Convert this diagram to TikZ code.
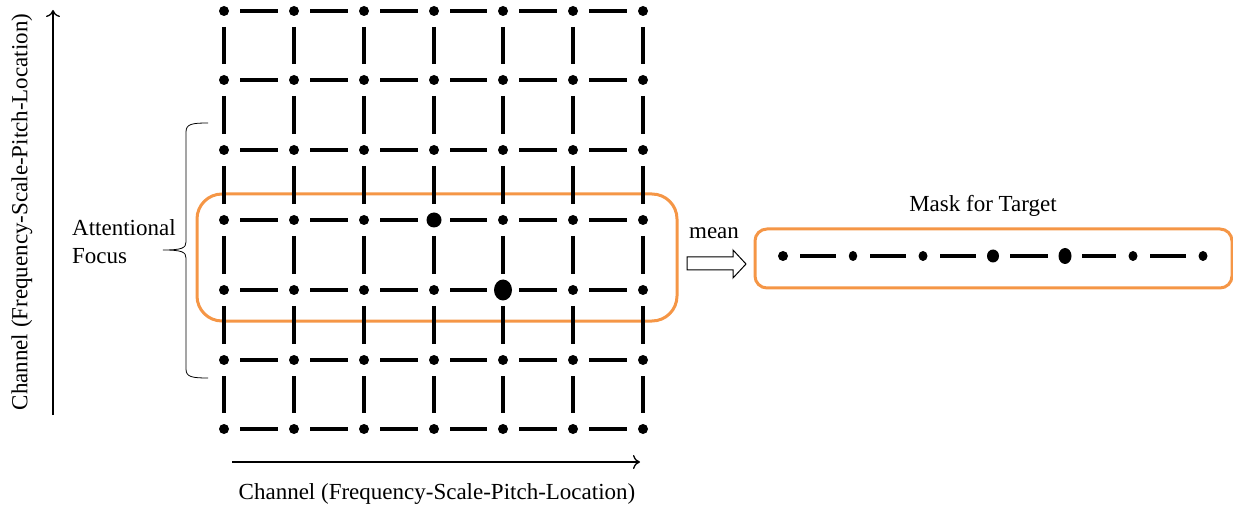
\documentclass[tikz,border=0pt]{standalone}
\usepackage{fontspec}
\setmainfont{Liberation Serif}
\usetikzlibrary{shapes.geometric,arrows.meta}
\definecolor{focusorange}{RGB}{245,150,70}
\tikzset{
  dot/.style={ellipse,fill=black,inner sep=0pt,minimum width=10pt,minimum height=10pt},
  seg/.style={line width=4pt,shorten >=16pt,shorten <=16pt},
  mseg/.style={line width=4pt,shorten >=17pt,shorten <=17pt},
  lbl/.style={font=\fontsize{23}{28}\selectfont,inner sep=0pt},
  axisline/.style={line width=1.3pt,-{To[length=7pt,width=14pt]}},
  focusbox/.style={draw=focusorange,line width=3pt,rounded corners=25pt,inner sep=0pt},
  maskbox/.style={draw=focusorange,line width=3pt,rounded corners=12pt,inner sep=0pt},
  dotsize-3-3/.style={minimum width=15pt,minimum height=15pt},
  dotsize-4-4/.style={minimum width=18pt,minimum height=21pt},
}
\begin{document}
\begin{tikzpicture}[x=1pt,y=-1pt]
\useasboundingbox (0,0) rectangle (1233,510);

% focus box (below the grid)
\node[focusbox,minimum width=480pt,minimum height=127pt] (focus) at (437,257.5) {};

% grid dots
\foreach \ci/\xx in {0/224,1/294,2/364,3/434,4/503,5/573,6/643}{
  \foreach \ri/\yy in {0/11,1/80,2/150,3/220,4/290,5/360,6/429}{
    \node[dot,dotsize-\ci-\ri/.try] (d-\ci-\ri) at (\xx,\yy) {};
  }
}

% horizontal and vertical dashes
\foreach \ja in {0,...,6}{
  \foreach \ia in {0,...,5}{
    \pgfmathtruncatemacro{\ka}{\ia+1}
    \draw[seg] (d-\ia-\ja.center) -- (d-\ka-\ja.center);
    \draw[seg] (d-\ja-\ia.center) -- (d-\ja-\ka.center);
  }
}

% axes
\coordinate (ya0) at (53,415);
\coordinate (ya1) at (53,10);
\draw[axisline] (ya0) -- (ya1);
\coordinate (xa0) at (232,462);
\coordinate (xa1) at (640,462);
\draw[axisline] (xa0) -- (xa1);
\node[lbl,rotate=90] (ylabel) at (22,212) {Channel (Frequency-Scale-Pitch-Location)};
\node[lbl] (xlabel) at (437,494) {Channel (Frequency-Scale-Pitch-Location)};

% brace
\draw[line width=0.8pt] (208,123) .. controls (192,123) and (186,124) .. (186,132)
  -- (186,242) .. controls (186,248) and (182,250) .. (163,250)
  .. controls (182,250) and (186,252) .. (186,258)
  -- (186,369) .. controls (186,377) and (192,378) .. (208,378);
\node[lbl,align=left,anchor=west] (attn) at (72,242) {Attentional\\Focus};

% mean arrow
\node[lbl] (mean) at (714,233) {mean};
\draw[line width=1pt,fill=white] (687,257) -- (733,257) -- (733,250) -- (746,264)
  -- (733,278) -- (733,270) -- (687,270) -- cycle;

% mask
\node[lbl] (masktitle) at (983,206) {Mask for Target};
\node[maskbox,minimum width=477pt,minimum height=59pt] (mask) at (993.5,258.5) {};
\node[dot,minimum width=10pt,minimum height=10pt] (m-0) at (783,256) {};
\node[dot,minimum width=8.5pt,minimum height=10pt] (m-1) at (853,256) {};
\node[dot,minimum width=9pt,minimum height=10pt] (m-2) at (923,256) {};
\node[dot,minimum width=12pt,minimum height=13pt] (m-3) at (993,256) {};
\node[dot,minimum width=13pt,minimum height=16pt] (m-4) at (1065,256) {};
\node[dot,minimum width=9pt,minimum height=10pt] (m-5) at (1133,256) {};
\node[dot,minimum width=9pt,minimum height=10pt] (m-6) at (1203,256) {};
\foreach \ia in {0,...,5}{
  \pgfmathtruncatemacro{\ka}{\ia+1}
  \draw[mseg] (m-\ia.center) -- (m-\ka.center);
}
\end{tikzpicture}
\end{document}
